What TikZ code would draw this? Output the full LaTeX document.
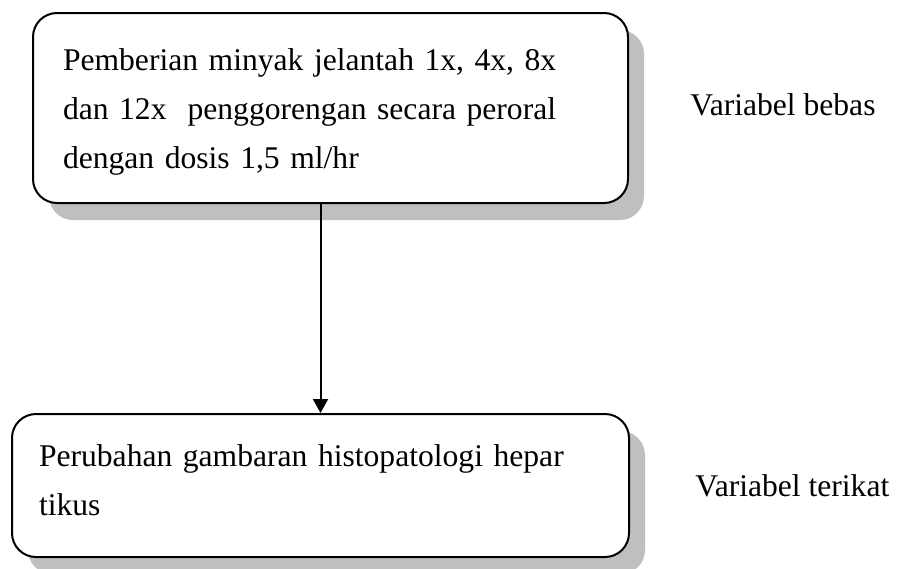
\documentclass[tikz,border=0pt]{standalone}
\usepackage{fontspec}
\setmainfont{Liberation Serif}
\usetikzlibrary{arrows.meta,positioning,shadows}

\begin{document}
\begin{tikzpicture}[
  x=0.5pt, y=-0.5pt,
  >={Triangle[length=7pt,width=7.5pt]},
  every node/.style={font=\fontsize{15.8pt}{24.5pt}\selectfont},
  box/.style={draw, line width=1pt, rounded corners=12pt, fill=white,
              align=left, inner ysep=0pt,
              drop shadow={shadow xshift=8pt, shadow yshift=-8.5pt,
                           fill=black!25, opacity=1}},
  cause/.style={box, minimum width=297.5pt, minimum height=95pt,
                inner xsep=15pt, text width=267.5pt},
  effect/.style={box, minimum width=308.5pt, minimum height=71.5pt,
                 inner xsep=13.5pt, text width=281.5pt},
  varlabel/.style={anchor=base west, inner sep=0pt},
]
\useasboundingbox (0,0) rectangle (897,568);

\node[cause] (treat) at (330.5,108)
  {\rule{0pt}{15pt}Pemberian minyak jelantah 1x, 4x, 8x\\
   dan 12x~ penggorengan secara peroral\\
   dengan dosis 1,5 ml/hr};
\node[effect] (liver) at (320.5,485.5)
  {Perubahan gambaran histopatologi hepar\\
   tikus\rule[-5pt]{0pt}{5pt}};

\node[varlabel] (free) at (690,115) {Variabel bebas};
\node[varlabel] (bound) at (695,496) {Variabel terikat};

\draw[->, line width=1pt] (treat.south -| liver.north) -- (liver.north);
\end{tikzpicture}
\end{document}
